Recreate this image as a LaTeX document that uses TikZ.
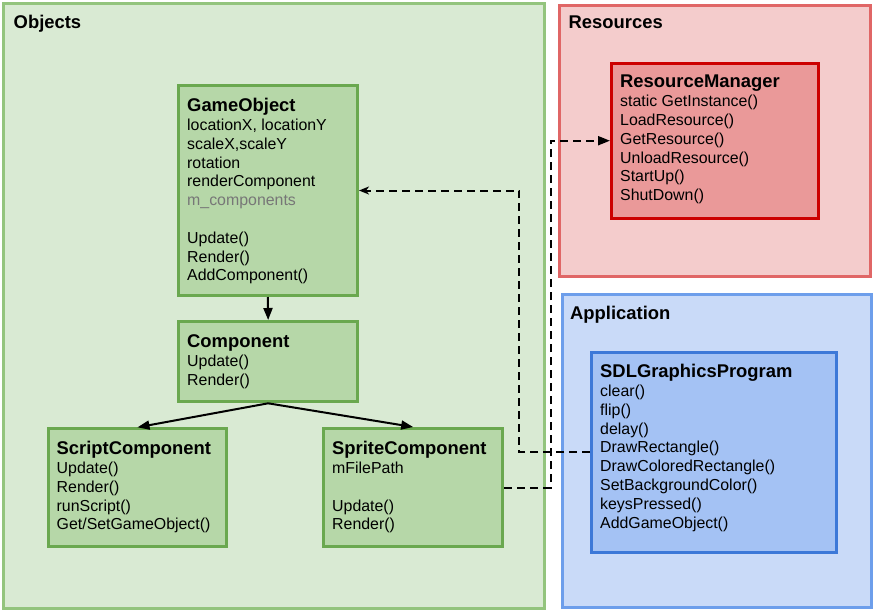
\documentclass[tikz,border=0pt]{standalone}
\usepackage{fontspec}
\setmainfont{Liberation Sans}
\usetikzlibrary{arrows.meta}
\definecolor{objfill}{HTML}{D9EAD3}
\definecolor{objline}{HTML}{93C47D}
\definecolor{gfill}{HTML}{B6D7A8}
\definecolor{gline}{HTML}{6AA84F}
\definecolor{resfill}{HTML}{F4CCCC}
\definecolor{resline}{HTML}{E06666}
\definecolor{rfill}{HTML}{EA9999}
\definecolor{rline}{HTML}{CC0000}
\definecolor{appfill}{HTML}{C9DAF8}
\definecolor{appline}{HTML}{6D9EEB}
\definecolor{bfill}{HTML}{A4C2F4}
\definecolor{bline}{HTML}{3C78D8}
\definecolor{greytxt}{HTML}{777777}
\newcommand{\cltitle}[1]{{\fontsize{18.4}{18.8}\selectfont\bfseries #1}\\[0.6pt]}
\begin{document}
\begin{tikzpicture}[x=1pt,y=-1pt,
  box/.style={draw, line width=3pt, inner sep=0pt, anchor=north west},
  txt/.style={anchor=base west, inner sep=0pt, font=\fontsize{15.9}{18.8}\selectfont},
  lbl/.style={anchor=base west, inner sep=0pt, font=\fontsize{18.4}{18.8}\selectfont\bfseries},
  arr/.style={line width=2pt, -{Triangle[length=12pt,width=9pt]}},
  dsh/.style={line width=2pt, dash pattern=on 8pt off 5pt}]
\fill[white] (0,0) rectangle (875,611);
\useasboundingbox (0,0) rectangle (875,611);
% containers
\node[box, draw=objline, fill=objfill, minimum width=541pt, minimum height=605pt] (objects) at (2,2) {};
\node[box, draw=resline, fill=resfill, minimum width=311pt, minimum height=270.5pt] (resources) at (558,4) {};
\node[box, draw=appline, fill=appfill, minimum width=309.3pt, minimum height=313pt] (application) at (560.7,293) {};
\node[lbl] (objl) at (13.5,28) {Objects};
\node[lbl] (resl) at (568.5,28) {Resources};
\node[lbl] (appl) at (570,319.5) {Application};
% class boxes
\node[box, draw=gline, fill=gfill, minimum width=179.3pt, minimum height=210pt] (go) at (176.7,84) {};
\node[box, draw=gline, fill=gfill, minimum width=178.7pt, minimum height=80.3pt] (comp) at (177.3,320) {};
\node[box, draw=gline, fill=gfill, minimum width=178.6pt, minimum height=118pt] (sc) at (46.7,427.3) {};
\node[box, draw=gline, fill=gfill, minimum width=179.3pt, minimum height=118.3pt] (sp) at (322,427) {};
\node[box, draw=rline, fill=rfill, minimum width=206.7pt, minimum height=155pt] (rm) at (610,61.7) {};
\node[box, draw=bline, fill=bfill, minimum width=245.3pt, minimum height=200pt] (sdl) at (590,350.7) {};
% texts
\node[txt] (got) at (187,111) {\parbox[t]{160pt}{\raggedright\cltitle{GameObject}locationX, locationY\\scaleX,scaleY\\rotation\\renderComponent\\\textcolor{greytxt}{m\_components}\\[18.8pt]Update()\\Render()\\AddComponent()}};
\node[txt] (compt) at (187,347) {\parbox[t]{160pt}{\raggedright\cltitle{Component}Update()\\Render()}};
\node[txt] (sct) at (56.5,454) {\parbox[t]{165pt}{\raggedright\cltitle{ScriptComponent}Update()\\Render()\\runScript()\\Get/SetGameObject()}};
\node[txt] (spt) at (332,454) {\parbox[t]{165pt}{\raggedright\cltitle{SpriteComponent}mFilePath\\[18.8pt]Update()\\Render()}};
\node[txt] (rmt) at (620,87.3) {\parbox[t]{190pt}{\raggedright\cltitle{ResourceManager}static GetInstance()\\LoadResource()\\GetResource()\\UnloadResource()\\StartUp()\\ShutDown()}};
\node[txt] (sdlt) at (600,377) {\parbox[t]{230pt}{\raggedright\cltitle{SDLGraphicsProgram}clear()\\flip()\\delay()\\DrawRectangle()\\DrawColoredRectangle()\\SetBackgroundColor()\\keysPressed()\\AddGameObject()}};
% connectors
\draw[arr] (go.south) -- (comp.north);
\draw[arr] (comp.south) -- (sc.north);
\draw[arr] (comp.south) -- (sp.north);
\coordinate (j1) at (519.3,0);
\coordinate (j2) at (550.7,0);
\draw[dsh, -{Stealth[length=10pt,width=8pt,inset=3pt]}] (sdl.west) -- (sdl.west -| j1) |- (go.east);
\draw[dsh, -{Triangle[length=12pt,width=9pt]}] (sp.east) -- (sp.east -| j2) |- (rm.west);
\end{tikzpicture}
\end{document}
